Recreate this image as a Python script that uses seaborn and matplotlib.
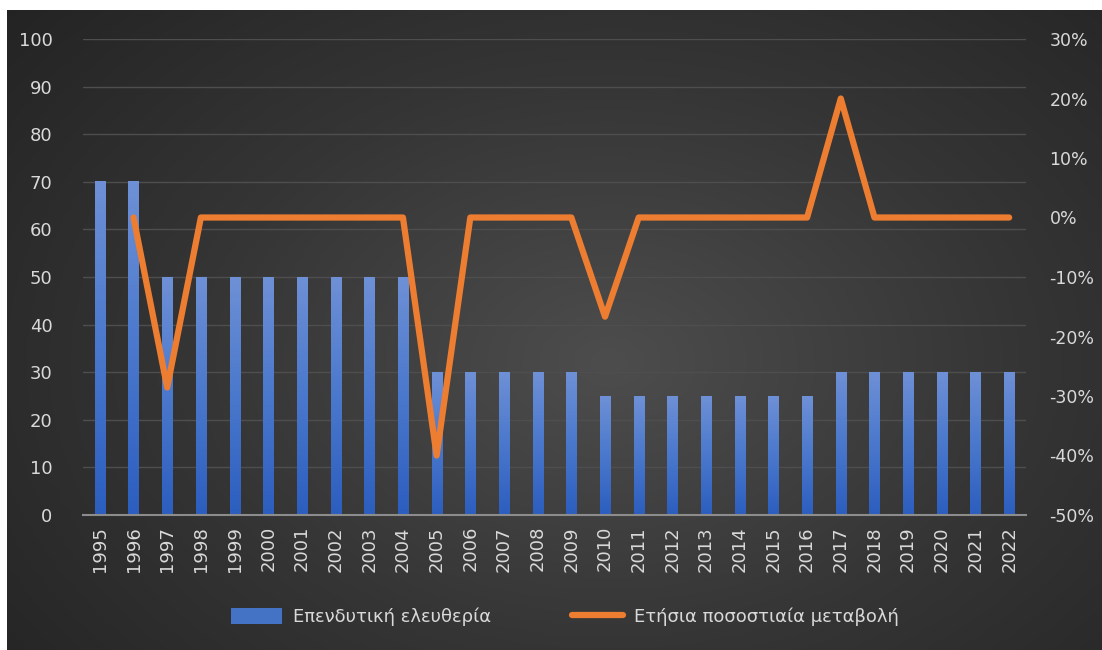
import numpy as np
import pandas as pd
import matplotlib
matplotlib.use("Agg")
import matplotlib.pyplot as plt
import seaborn as sns
from matplotlib.colors import LinearSegmentedColormap
from matplotlib.ticker import PercentFormatter, MultipleLocator
from matplotlib.lines import Line2D
from matplotlib.patches import Patch

years = [str(y) for y in range(1995, 2023)]
freedom = [70, 70, 50, 50, 50, 50, 50, 50, 50, 50, 30, 30, 30, 30, 30,
           25, 25, 25, 25, 25, 25, 25, 30, 30, 30, 30, 30, 30]
change_years = years[1:]
change = [0.0, -0.2857, 0.0, 0.0, 0.0, 0.0, 0.0, 0.0, 0.0, -0.40,
          0.0, 0.0, 0.0, 0.0, -0.1667, 0.0, 0.0, 0.0, 0.0, 0.0, 0.0,
          0.20, 0.0, 0.0, 0.0, 0.0, 0.0]

label_bar = "Επενδυτική ελευθερία"
label_line = "Ετήσια ποσοστιαία μεταβολή"

sns.set_style("white")
plt.rcParams["font.family"] = ["DejaVu Sans"]
plt.rcParams["axes.unicode_minus"] = False
txt = "#d9d9d9"

fig = plt.figure(figsize=(11.02, 6.5), dpi=100)
fig.patch.set_facecolor("white")

# dark radial background
bg = fig.add_axes([7 / 1102, 0, 1 - 7 / 1102, 640 / 650])
bg.set_axis_off()
yy, xx = np.mgrid[0:1:300j, 0:1:500j]
r = np.sqrt(((xx - 0.55) / 0.75) ** 2 + ((yy - 0.55) / 0.9) ** 2)
shade = np.clip(1 - r, 0, 1)
bg_cmap = LinearSegmentedColormap.from_list("bg", ["#222222", "#353535", "#4d4d4d"])
bg.imshow(shade, cmap=bg_cmap, aspect="auto", extent=[0, 1, 0, 1], vmin=0, vmax=1)

ax = fig.add_axes([83 / 1102, 1 - 515 / 650, 943 / 1102, 476 / 650])
ax.set_facecolor("none")
df = pd.DataFrame({"year": years, "value": freedom})
sns.barplot(data=df, x="year", y="value", color="#4472c4", width=0.3, ax=ax)

bar_cmap = LinearSegmentedColormap.from_list("bar", ["#2c5ebf", "#4a78cc", "#6e90d6"])
grad = np.linspace(0, 1, 100).reshape(-1, 1)
for p in ax.patches:
    x0, w, h = p.get_x(), p.get_width(), p.get_height()
    ax.imshow(grad, cmap=bar_cmap, origin="lower", aspect="auto",
              extent=[x0, x0 + w, 0, h], zorder=2)
    p.set_visible(False)

ax.set_xlim(-0.5, len(years) - 0.5)
ax.set_ylim(0, 100)
ax.yaxis.set_major_locator(MultipleLocator(10))
ax.grid(axis="y", color="#4e4e4e", linewidth=1.0)
ax.set_axisbelow(True)
for s in ["top", "left", "right"]:
    ax.spines[s].set_visible(False)
ax.spines["bottom"].set_color("#8c8c8c")
ax.spines["bottom"].set_linewidth(1.5)
ax.tick_params(axis="both", length=0, colors=txt, labelsize=13)
ax.tick_params(axis="y", pad=22)
ax.tick_params(axis="x", pad=8)
plt.setp(ax.get_xticklabels(), rotation=90)
ax.set_xlabel("")
ax.set_ylabel("")

ax2 = ax.twinx()
ax2.set_facecolor("none")
xpos = [years.index(y) for y in change_years]
ax2.plot(xpos, change, color="#ed7d31", linewidth=4.5,
         solid_capstyle="round", solid_joinstyle="round", zorder=3)
ax2.set_ylim(-0.5, 0.3)
ax2.yaxis.set_major_locator(MultipleLocator(0.1))
ax2.yaxis.set_major_formatter(PercentFormatter(1.0, decimals=0))
for s in ax2.spines.values():
    s.set_visible(False)
ax2.tick_params(axis="y", length=0, colors=txt, labelsize=12.5, pad=17)
ax2.set_xlim(-0.5, len(years) - 0.5)

handles = [Patch(facecolor="#4472c4", edgecolor="none"),
           Line2D([0], [0], color="#ed7d31", linewidth=4.5, solid_capstyle="round")]
fig.legend(handles, [label_bar, label_line], loc="center",
           bbox_to_anchor=(565 / 1102, 1 - 617 / 650), ncol=2, frameon=False,
           fontsize=13, labelcolor=txt, handlelength=2.8, handleheight=1.0,
           handletextpad=0.6, columnspacing=4.5)

fig.savefig("out.png", dpi=100)
